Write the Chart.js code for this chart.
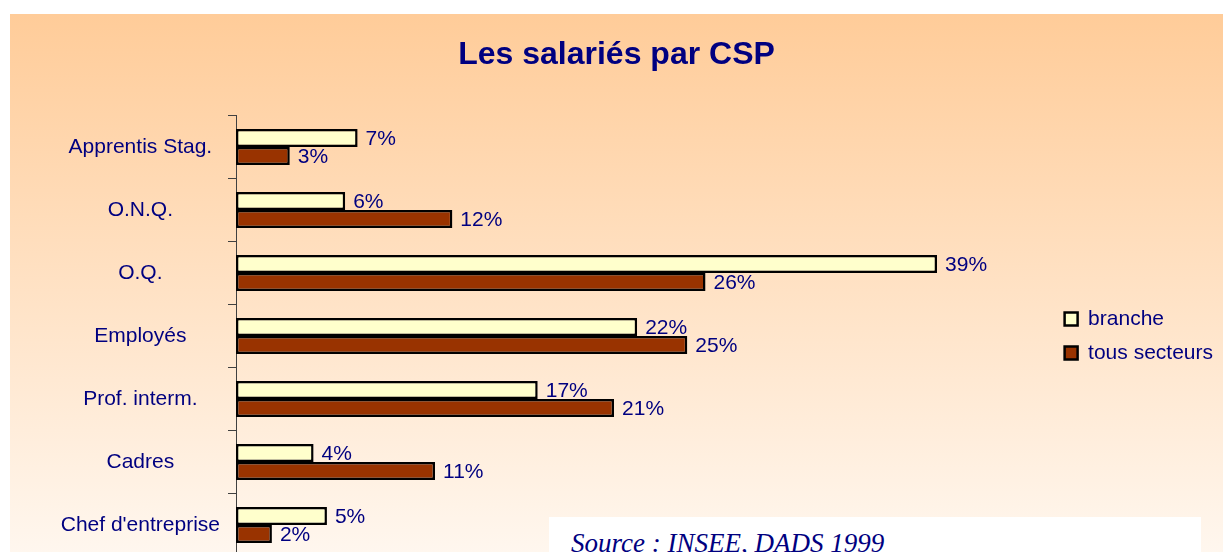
<!DOCTYPE html>
<html><head><meta charset="utf-8">
<script src="https://cdn.jsdelivr.net/npm/chart.js@4/dist/chart.umd.min.js"></script>
<style>
html,body{margin:0;padding:0;width:1223px;height:552px;overflow:hidden;background:#fff;}
#wrap{position:absolute;left:10px;top:14px;width:1213px;height:542px;overflow:hidden;background:linear-gradient(to bottom,#FFCC99 0%,#FFF7EF 100%);}
#src{position:absolute;left:549px;top:517px;width:652px;height:60px;background:#fff;}
#src span{position:absolute;left:22px;top:13px;font:italic 27px/27px "Liberation Serif","Times New Roman",serif;color:#000080;white-space:nowrap;}
</style></head>
<body>
<div id="wrap"><canvas id="c" width="1213" height="563"></canvas></div>
<div id="src"><span>Source : INSEE, DADS 1999</span></div>
<script>
const categories = ["Apprentis Stag.", "O.N.Q.", "O.Q.", "Employés", "Prof. interm.", "Cadres", "Chef d'entreprise"];
const branche = [6.74, 6.05, 38.85, 22.23, 16.72, 4.30, 5.04];
const tousSecteurs = [2.98, 11.99, 26.02, 25.01, 20.95, 11.03, 1.99];
const seriesNames = ["branche", "tous secteurs"];
const titleText = "Les salariés par CSP";

const FONT = '"Liberation Sans", Arial, sans-serif';
const NAVY = '#000080';

const valueLabels = {
  id: 'valueLabels',
  afterDatasetsDraw(chart) {
    const ctx = chart.ctx;
    ctx.save();
    ctx.font = '21px ' + FONT;
    ctx.fillStyle = NAVY;
    ctx.textBaseline = 'middle';
    ctx.textAlign = 'left';
    chart.data.datasets.forEach((ds, i) => {
      chart.getDatasetMeta(i).data.forEach((bar, j) => {
        ctx.fillText(Math.round(ds.data[j]) + '%', bar.x + 8, bar.y + 1);
      });
    });
    ctx.restore();
  }
};

new Chart(document.getElementById('c'), {
  type: 'bar',
  data: {
    labels: categories,
    datasets: [
      { label: seriesNames[0], data: branche, backgroundColor: '#FFFFCC', borderColor: '#000000', borderWidth: 2.5, borderSkipped: false, categoryPercentage: 0.571, barPercentage: 1 },
      { label: seriesNames[1], data: tousSecteurs, backgroundColor: '#993300', borderColor: '#000000', borderWidth: 2.5, borderSkipped: false, categoryPercentage: 0.571, barPercentage: 1 }
    ]
  },
  options: {
    indexAxis: 'y',
    responsive: false,
    animation: false,
    layout: { padding: { left: 0, right: 0, top: 0, bottom: 0 } },
    plugins: {
      title: { display: true, text: titleText, color: NAVY, font: { family: FONT, size: 32, weight: 'bold' }, padding: { top: 22, bottom: 41 } },
      legend: { position: 'right', fullSize: false, labels: { color: NAVY, font: { family: FONT, size: 21 }, boxWidth: 13, boxHeight: 13, padding: 13 } },
      tooltip: { enabled: false }
    },
    scales: {
      x: { display: false, min: 0, max: 45.2 },
      y: {
        position: 'left',
        grid: { offset: true, drawOnChartArea: false, tickLength: 8, color: '#404040', lineWidth: 1 },
        border: { color: '#404040', width: 1 },
        ticks: { color: NAVY, font: { family: FONT, size: 21 }, crossAlign: 'center', padding: 8 },
        afterFit(s) { s.width = 226; }
      }
    }
  },
  plugins: [valueLabels]
});
</script>
</body></html>
